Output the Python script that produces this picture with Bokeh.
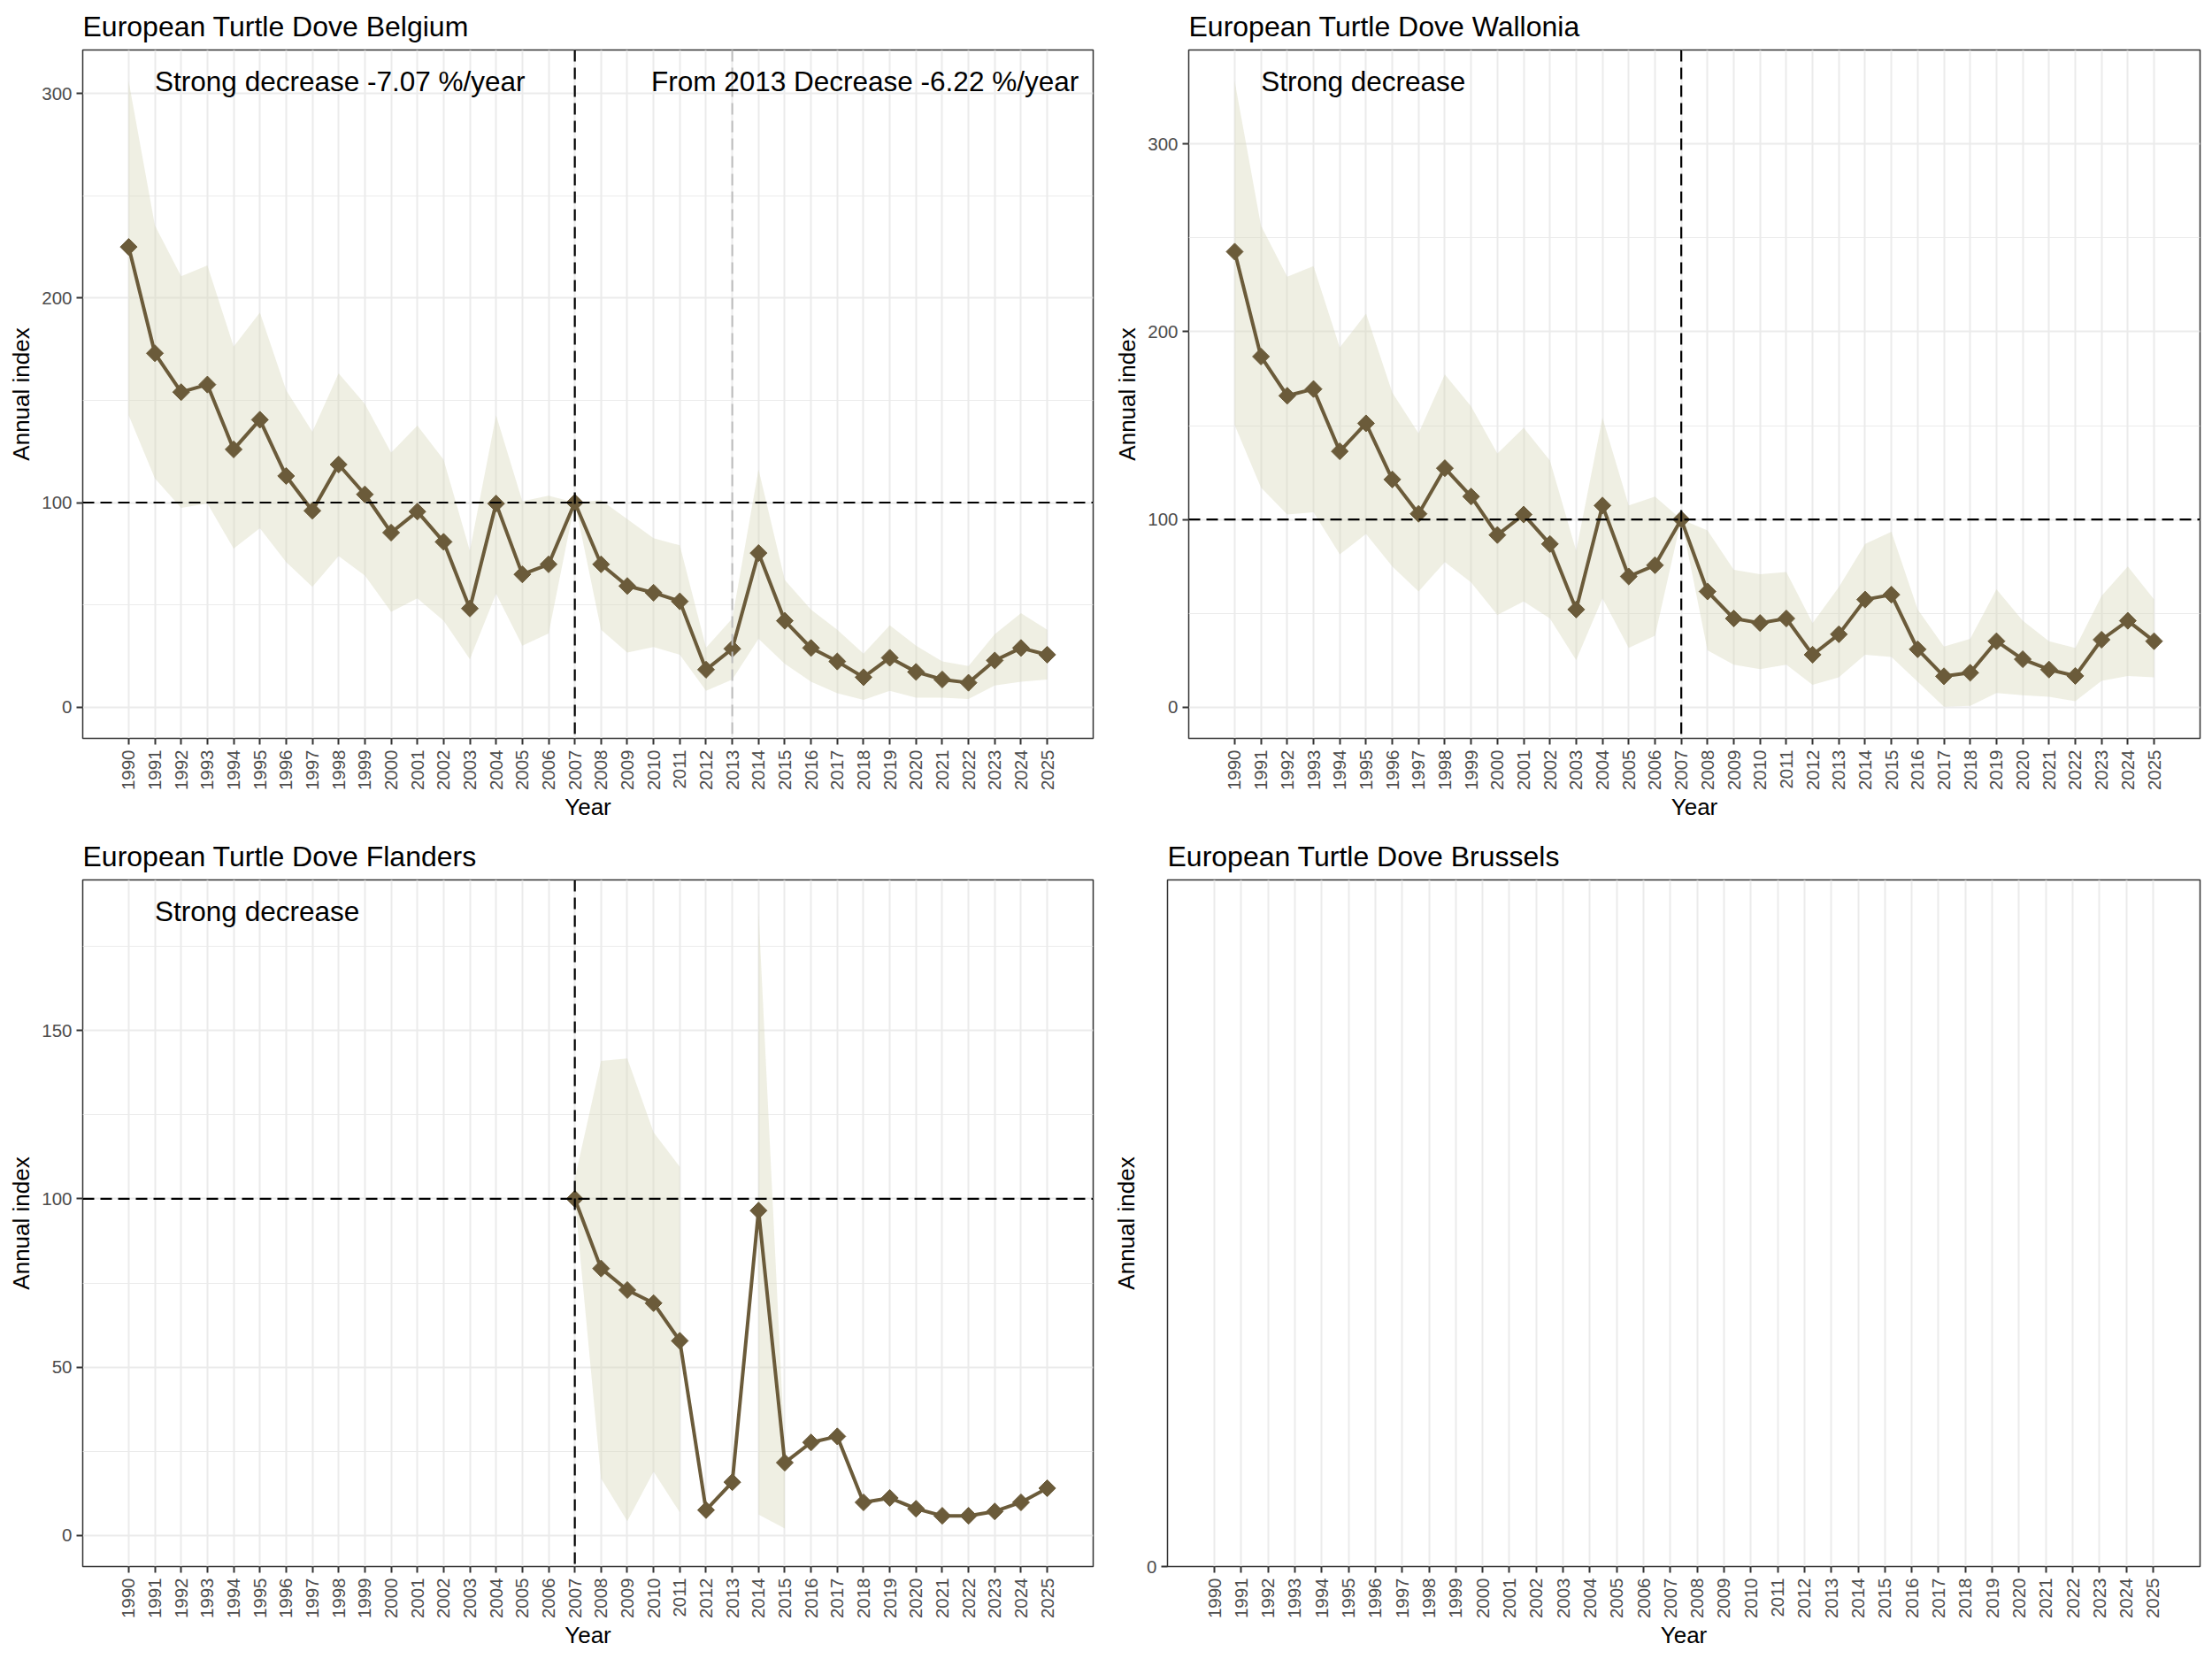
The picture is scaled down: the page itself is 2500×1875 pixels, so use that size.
import math
from bokeh.plotting import figure
from bokeh.layouts import column, row
from bokeh.models import Range1d, FixedTicker, Span, Label
from bokeh.embed import file_html
from bokeh.resources import INLINE

# ---------------- data ----------------
years = list(range(1990, 2026))
base_year = 2007
base_index = 100
change_year = 2013

belgium_index = [225, 173, 154, 157.7, 126, 140.5, 113, 96, 118.6, 104, 85.3, 95.6, 80.8, 48.2, 99.5, 64.9, 69.8, 100,
                 69.8, 59.2, 55.9, 51.7, 18.3, 28.5, 75.3, 42.2, 28.9, 22.3, 14.6, 24.1, 17.2, 13.5, 11.9, 22.8, 28.9, 25.6]
belgium_upper = [306, 235.5, 210.7, 216, 176.3, 192.9, 154.9, 134.6, 163.2, 148.2, 124.4, 137.6, 121, 76.4, 142.7, 100.7, 103.4, 100,
                 101.2, 91.9, 82.6, 79.1, 29, 43.3, 116.2, 62.1, 47.7, 37.8, 26.1, 40, 30, 22.3, 20.1, 35.6, 45.9, 37.8]
belgium_lower = [142.7, 111.8, 97.4, 99.6, 77.5, 87.5, 70.9, 58.8, 73.8, 64.3, 46.6, 53.2, 42.2, 23.4, 55.4, 30, 36, 100,
                 37.8, 26.7, 29.4, 25.6, 8, 13.5, 33.4, 21.2, 12.4, 6.8, 3.5, 8, 4.6, 4.6, 4, 10.6, 12.4, 13.5]

wallonia_index = [242.7, 186.8, 165.9, 169.5, 136.3, 151.2, 121.3, 103, 127.3, 112.2, 91.7, 102.6, 86.9, 52, 107.4, 69.6, 75.6, 100,
                  61.6, 47.2, 44.8, 47.2, 27.9, 38.8, 57.3, 59.9, 30.8, 16.4, 18.3, 35.1, 25.5, 20, 16.6, 35.9, 46, 35.1]
wallonia_upper = [333.5, 256.6, 229.4, 235, 191.6, 209.7, 167.6, 145.9, 177.2, 160.3, 135.1, 148.8, 131.4, 83.3, 154.3, 107.4, 112.2, 100,
                  94.1, 73.2, 70.8, 72, 44.8, 64, 86.9, 93.4, 52, 32.3, 36.4, 62.8, 46, 35.1, 31.5, 59.2, 74.9, 57.3]
wallonia_lower = [150.2, 117, 102.6, 103.8, 81.4, 92.2, 74.9, 61.6, 77.3, 66.4, 49.1, 56.3, 47.2, 25, 58, 31.5, 38, 100,
                  30.3, 22.6, 20.2, 22.6, 11.8, 15.9, 27.9, 26.7, 13.5, 0.2, 0.7, 7.5, 6.3, 5.5, 3.1, 14, 16.6, 15.9]

N = None
flanders_index = [N] * 17 + [100, 79.3, 72.9, 69, 57.8, 7.5, 15.8, 96.5, 21.6, 27.6, 29.4, 9.8, 11.1, 7.9, 5.8, 5.8, 7.1, 9.8, 14]
flanders_upper = [N] * 17 + [106, 141, 141.7, 119.8, 109.5, N, N, 185.5, 25, N, N, N, N, N, N, N, N, N, N]
flanders_lower = [N] * 17 + [100, 16.9, 4.2, 18.9, 6.8, N, N, 6.2, 2, N, N, N, N, N, N, N, N, N, N]

brussels_index = []

belgium_ticks, belgium_minor = [0, 100, 200, 300], [50, 150, 250]
wallonia_ticks, wallonia_minor = [0, 100, 200, 300], [50, 150, 250]
flanders_ticks, flanders_minor = [0, 50, 100, 150], [25, 75, 125, 175]
brussels_ticks = [0]

# ---------------- style ----------------
FONT = "Liberation Sans"
LINE_COL = "#6b5b3a"
RIB_COL = "#d8d8b8"
GRID_COL = "#ebebeb"


def runs(xs, a, b):
    out, cur = [], []
    for x, u, l in zip(xs, a, b):
        if u is None or l is None:
            if cur:
                out.append(cur)
            cur = []
        else:
            cur.append((x, u, l))
    if cur:
        out.append(cur)
    return out


def panel(title, idx, up, lo, ticks, minor, texts, frame_w, frame_h,
          b_left, b_right, b_top, b_bottom, gray_line=False):
    if up:
        ymax = max(v for v in up if v is not None)
        yr = Range1d(-0.05 * ymax, 1.05 * ymax)
    else:
        yr = Range1d(0, 1)
    p = figure(frame_width=frame_w, frame_height=frame_h,
               x_range=Range1d(1988.25, 2026.75), y_range=yr,
               output_backend="svg", toolbar_location=None,
               min_border_left=b_left, min_border_right=b_right,
               min_border_top=b_top, min_border_bottom=b_bottom,
               background_fill_color="white", border_fill_color="white")
    p.title.text = title
    p.title.text_font = FONT
    p.title.text_font_size = "32px"
    p.title.text_font_style = "normal"
    p.title.text_color = "black"
    p.title.align = "left"
    p.title.offset = 0
    p.title.standoff = 18

    p.outline_line_color = "#333333"
    p.outline_line_width = 1.5

    p.xaxis.ticker = FixedTicker(ticks=years)
    p.yaxis.ticker = FixedTicker(ticks=ticks, minor_ticks=minor)
    for ax in (p.xaxis[0], p.yaxis[0]):
        ax.axis_line_color = None
        ax.major_tick_line_color = "#333333"
        ax.major_tick_line_width = 2
        ax.major_tick_out = 7
        ax.major_tick_in = 0
        ax.minor_tick_line_color = None
        ax.major_label_text_font = FONT
        ax.major_label_text_font_size = "20.5px"
        ax.major_label_text_color = "#4d4d4d"
        ax.axis_label_text_font = FONT
        ax.axis_label_text_font_size = "26px"
        ax.axis_label_text_font_style = "normal"
        ax.axis_label_text_color = "black"
    p.xaxis.major_label_orientation = math.pi / 2
    p.xaxis.major_label_standoff = 6
    p.yaxis.major_label_standoff = 5
    p.xaxis.axis_label = "Year"
    p.yaxis.axis_label = "Annual index"
    p.xaxis.axis_label_standoff = 1
    p.yaxis.axis_label_standoff = 5

    p.xgrid.grid_line_color = GRID_COL
    p.xgrid.grid_line_width = 2
    p.ygrid.grid_line_color = GRID_COL
    p.ygrid.grid_line_width = 2
    p.ygrid.minor_grid_line_color = GRID_COL
    p.ygrid.minor_grid_line_width = 1

    for seg in runs(years, up, lo):
        p.varea(x=[s[0] for s in seg], y1=[s[2] for s in seg], y2=[s[1] for s in seg],
                fill_color=RIB_COL, fill_alpha=0.4)

    if idx:
        p.add_layout(Span(location=base_index, dimension="width", line_color="black",
                          line_width=2.2, line_dash="13 7"))
        p.add_layout(Span(location=base_year, dimension="height", line_color="black",
                          line_width=2.2, line_dash="13 7"))
        if gray_line:
            p.add_layout(Span(location=change_year, dimension="height", line_color="#bdbdbd",
                              line_width=2, line_dash="13 7"))
        xs = [y for y, v in zip(years, idx) if v is not None]
        vs = [v for v in idx if v is not None]
        p.line(xs, vs, line_color=LINE_COL, line_width=4)
        p.scatter(xs, vs, marker="square", angle=math.pi / 4, size=13.5,
                  fill_color=LINE_COL, line_color=LINE_COL)

    for (tx, align, txt) in texts:
        p.add_layout(Label(x=tx, y=frame_h - 35, x_units="data", y_units="screen",
                           text=txt, text_font=FONT, text_font_size="31.5px",
                           text_align=align, text_baseline="alphabetic", text_color="black"))
    return p


p1 = panel("European Turtle Dove Belgium", belgium_index, belgium_upper, belgium_lower,
           belgium_ticks, belgium_minor,
           [(1991, "left", "Strong decrease -7.07 %/year"),
            (2026.2, "right", "From 2013 Decrease -6.22 %/year")],
           1142, 778, 93, 15, 55, 100, gray_line=True)
p2 = panel("European Turtle Dove Wallonia", wallonia_index, wallonia_upper, wallonia_lower,
           wallonia_ticks, wallonia_minor,
           [(1991, "left", "Strong decrease")],
           1143, 778, 93, 14, 55, 100)
p3 = panel("European Turtle Dove Flanders", flanders_index, flanders_upper, flanders_lower,
           flanders_ticks, flanders_minor,
           [(1991, "left", "Strong decrease")],
           1142, 776, 93, 15, 60, 98)
p4 = panel("European Turtle Dove Brussels", brussels_index, [], [],
           brussels_ticks, [], [], 1167, 776, 69, 14, 60, 98)

layout = column(row(p1, p2), row(p3, p4))
open("out.html", "w").write(file_html(layout, INLINE))
